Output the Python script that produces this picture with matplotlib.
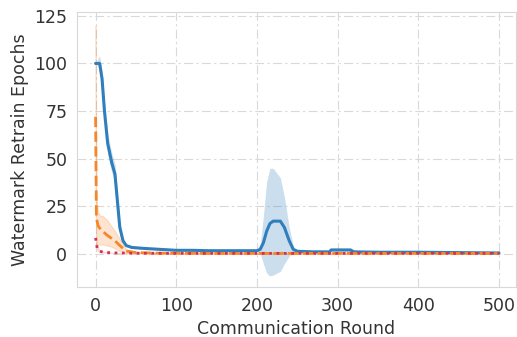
import numpy as np
import matplotlib.pyplot as plt
import seaborn as sns

# watermark retrain epochs per communication round (mean and band bounds)
rounds_a = [0, 5, 8, 11, 15, 20, 24, 27, 30, 34, 38, 45, 60, 80, 100, 120, 140, 160, 180,
            200, 204, 208, 212, 216, 220, 229, 234, 240, 245, 250, 270, 290, 292, 300,
            316, 320, 350, 400, 450, 500]
mean_a = [100, 100, 92, 75, 58, 48, 42, 28, 14, 7, 4.5, 3.5, 3, 2.5, 2, 2, 1.8, 1.8, 1.8,
          1.8, 2.5, 6, 12, 16, 17.3, 17.3, 14, 7, 2.5, 1.5, 1.2, 1.2, 2.2, 2.2,
          2.2, 1.2, 1, 1, 0.8, 0.6]
low_a = [100, 98, 88, 70, 52, 43, 37, 22, 10, 6, 4, 3, 2.6, 2.2, 1.7, 1.7, 1.5, 1.5, 1.5,
         1.5, 0.5, -5, -10, -11.4, -11, -9, -5, -1, 1, 1.2, 1, 1, 1.5, 1.5,
         1.5, 1, 0.8, 0.8, 0.6, 0.4]
high_a = [100, 104, 96, 80, 63, 53, 47, 33, 18, 8, 5, 4, 3.4, 2.8, 2.3, 2.3, 2.1, 2.1, 2.1,
          2.1, 5, 20, 38, 45, 45, 40, 30, 14, 4, 1.8, 1.4, 1.4, 3, 3,
          3, 1.4, 1.2, 1.2, 1, 0.8]

rounds_b = [0, 1, 3, 6, 9, 14, 19, 24, 30, 38, 50, 80, 150, 250, 350, 450, 500]
mean_b = [72, 19, 15, 13, 12, 10, 8.5, 7, 4.5, 1.6, 0.8, 0.5, 0.4, 0.4, 0.4, 0.4, 0.4]
low_b = [30, 5, 5, 5, 5, 4.5, 4, 3, 1.5, 0.8, 0.4, 0.3, 0.2, 0.2, 0.2, 0.2, 0.2]
high_b = [120, 30, 22, 20, 20, 18, 15, 12, 8, 2.5, 1.2, 0.7, 0.6, 0.6, 0.6, 0.6, 0.6]

rounds_c = [0, 2, 5, 10, 20, 40, 100, 200, 300, 400, 500]
mean_c = [8.5, 3, 1.5, 1, 0.7, 0.5, 0.4, 0.4, 0.4, 0.4, 0.4]
low_c = [5, 1.5, 0.8, 0.6, 0.4, 0.3, 0.2, 0.2, 0.2, 0.2, 0.2]
high_c = [12, 5, 2.5, 1.5, 1, 0.7, 0.6, 0.6, 0.6, 0.6, 0.6]

sns.set_style("whitegrid")
plt.rcParams['font.family'] = ['DejaVu Sans']

fig = plt.figure(figsize=(5.17, 3.37), dpi=100)
ax = fig.add_axes([0.149, 0.148, 0.849, 0.816])

blue, orange, red = "#2f7fbd", "#f5862a", "#d8304a"

ax.fill_between(rounds_a, low_a, high_a, color=blue, alpha=0.25, lw=0)
ax.plot(rounds_a, mean_a, color=blue, lw=2.2, ls="-")

ax.fill_between(rounds_b, low_b, high_b, color=orange, alpha=0.22, lw=0.8,
                edgecolor=(0.96, 0.53, 0.16, 0.25))
ax.plot(rounds_b, mean_b, color=orange, lw=2, ls="--")

ax.fill_between(rounds_c, low_c, high_c, color=red, alpha=0.2, lw=0)
ax.plot(rounds_c, mean_c, color=red, lw=2, ls=":")

ax.set_xlim(-23, 521)
ax.set_ylim(-17.3, 126.9)
ax.set_xticks(np.arange(0, 501, 100))
ax.set_yticks(np.arange(0, 126, 25))
ax.grid(True, ls=(0, (8, 3, 2, 3)), color="0.85", lw=0.8)
for s in ax.spines.values():
    s.set_color("0.85")

ax.tick_params(labelsize=12.5, colors="0.2")
ax.set_xlabel("Communication Round", fontsize=12.5, color="0.2")
ax.set_ylabel("Watermark Retrain Epochs", fontsize=12.5, color="0.2")

fig.savefig("out.png", dpi=100)
